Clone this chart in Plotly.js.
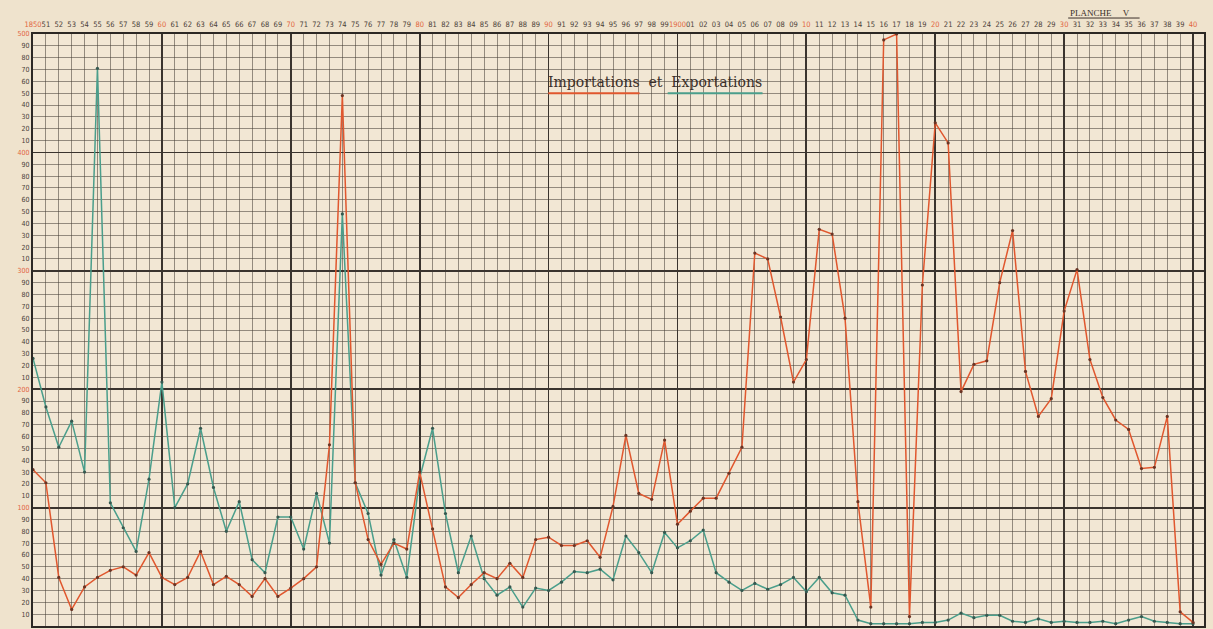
<!DOCTYPE html>
<html><head><meta charset="utf-8">
<script src="https://cdn.plot.ly/plotly-3.0.1.min.js"></script>
<style>html,body{margin:0;padding:0;background:#efe3cd;} #chart{width:1213px;height:629px;}</style>
</head><body><div id="chart"></div>
<script>
const years = [1850,1851,1852,1853,1854,1855,1856,1857,1858,1859,
1860,1861,1862,1863,1864,1865,1866,1867,1868,1869,
1870,1871,1872,1873,1874,1875,1876,1877,1878,1879,
1880,1881,1882,1883,1884,1885,1886,1887,1888,1889,
1890,1891,1892,1893,1894,1895,1896,1897,1898,1899,
1900,1901,1902,1903,1904,1905,1906,1907,1908,1909,
1910,1911,1912,1913,1914,1915,1916,1917,1918,1919,
1920,1921,1922,1923,1924,1925,1926,1927,1928,1929,
1930,1931,1932,1933,1934,1935,1936,1937,1938,1939,1940];

const yearLabels = ['1850','51','52','53','54','55','56','57','58','59',
'60','61','62','63','64','65','66','67','68','69',
'70','71','72','73','74','75','76','77','78','79',
'80','81','82','83','84','85','86','87','88','89',
'90','91','92','93','94','95','96','97','98','99',
'1900','01','02','03','04','05','06','07','08','09',
'10','11','12','13','14','15','16','17','18','19',
'20','21','22','23','24','25','26','27','28','29',
'30','31','32','33','34','35','36','37','38','39','40'];

const decades = [1850,1860,1870,1880,1890,1900,1910,1920,1930,1940];

// Importations (red)
const importations = [132,121,41,14,33,41,47,50,43,62,
41,35,41,63,35,42,35,25,40,25,
32,40,50,153,448,121,73,52,70,65,
130,82,33,24,35,45,40,53,41,73,
75,68,68,72,58,101,161,112,107,157,
86,97,108,108,129,151,315,310,261,206,
225,335,331,260,105,16,495,500,8,288,
425,408,198,221,224,290,334,215,177,192,
266,301,225,193,174,166,133,134,177,12,3];

// Exportations (green)
const exportations = [226,185,151,173,130,471,104,83,63,124,
206,100,120,167,117,80,105,56,45,92,
92,65,112,70,348,121,95,43,73,41,
125,167,95,45,76,40,26,33,16,32,
30,37,46,45,48,39,76,62,45,79,
66,72,81,45,37,30,36,31,35,41,
29,41,28,26,5,2,2,2,2,3,
3,5,11,7,9,9,4,3,6,3,
4,3,3,4,2,5,8,4,3,2,2];

const yValues = [0,10,20,30,40,50,60,70,80,90,100,110,120,130,140,150,160,170,180,190,
200,210,220,230,240,250,260,270,280,290,300,310,320,330,340,350,360,370,380,390,
400,410,420,430,440,450,460,470,480,490,500];
const yLabels = ['0','10','20','30','40','50','60','70','80','90','100','10','20','30','40','50','60','70','80','90',
'200','10','20','30','40','50','60','70','80','90','300','10','20','30','40','50','60','70','80','90',
'400','10','20','30','40','50','60','70','80','90','500'];
const hundreds = [0,100,200,300,400,500];

const RED = '#e0572e';
const GREEN = '#4a9e8b';
const LBL_RED = '#e2663f';
const INK = '#4a4038';

const xText = yearLabels.map((t,i)=> (years[i]%10===0) ? '<span style="color:'+LBL_RED+'">'+t+'</span>' : t);
const yText = yLabels.map((t,i)=> (yValues[i]%100===0) ? '<span style="color:'+LBL_RED+'">'+t+'</span>' : t);

const traces = [
  {x: years, y: importations, xaxis:'x2', yaxis:'y2', mode:'lines', line:{width:0}, hoverinfo:'skip', showlegend:false},
  {x: years, y: exportations, mode:'lines+markers', name:'Exportations',
   line:{color:GREEN, width:1.5}, marker:{size:3.2, color:'#35584f'}},
  {x: years, y: importations, mode:'lines+markers', name:'Importations',
   line:{color:RED, width:1.5}, marker:{size:3.2, color:'#6a3424'}}
];

const fontFam = '"Liberation Sans Narrow", "DejaVu Sans Condensed", "Liberation Sans", sans-serif';
const XR = [1850, 1940.85];
const layout = {
  width:1213, height:629,
  margin:{l:33, r:9, t:34, b:3},
  paper_bgcolor:'#efe3cd', plot_bgcolor:'#f2e7d4',
  showlegend:false,
  xaxis:{range:XR, side:'top', tickmode:'array', tickvals:years, ticktext:xText, tickangle:0,
    tickfont:{size:7.5, family:fontFam, color:INK}, ticks:'', ticklabelstandoff:2,
    showgrid:true, gridcolor:'rgba(70,62,52,0.55)', gridwidth:1, zeroline:false,
    showline:true, mirror:true, linecolor:'#2c2824', linewidth:2, fixedrange:true},
  xaxis2:{range:XR, overlaying:'x', anchor:'y2', side:'top', tickmode:'array', tickvals:decades,
    showticklabels:false, ticks:'', showgrid:true, gridcolor:'#3a342e', gridwidth:1.8,
    zeroline:false, showline:false, fixedrange:true},
  yaxis:{range:[0,500], tickmode:'array', tickvals:yValues, ticktext:yText,
    tickfont:{size:7, family:fontFam, color:INK}, ticks:'',
    showgrid:true, gridcolor:'rgba(70,62,52,0.55)', gridwidth:1, zeroline:false,
    showline:true, mirror:true, linecolor:'#2c2824', linewidth:2, fixedrange:true},
  yaxis2:{range:[0,500], overlaying:'y', anchor:'x2', tickmode:'array', tickvals:hundreds,
    showticklabels:false, ticks:'', showgrid:true, gridcolor:'#3a342e', gridwidth:1.8,
    zeroline:false, showline:false, fixedrange:true},
  annotations:[
    {xref:'paper', yref:'paper', x:0.531, y:0.919, xanchor:'center', yanchor:'middle',
     text:'Importations  et  Exportations', showarrow:false,
     font:{family:'"DejaVu Serif", serif', size:14, color:'#3b302a'}},
    {xref:'paper', yref:'paper', x:0.911, y:1.0355, xanchor:'center', yanchor:'middle',
     text:'PLANCHE\u00A0\u00A0\u00A0\u00A0\u00A0V', showarrow:false,
     font:{family:'"Liberation Serif", serif', size:9, color:'#3b302a'}}
  ],
  shapes:[
    {type:'line', xref:'paper', yref:'paper', x0:0.440, x1:0.518, y0:0.900, y1:0.900, line:{color:RED, width:2}},
    {type:'line', xref:'paper', yref:'paper', x0:0.542, x1:0.623, y0:0.900, y1:0.900, line:{color:GREEN, width:2}},
    {type:'line', xref:'paper', yref:'paper', x0:0.884, x1:0.945, y0:1.027, y1:1.027, line:{color:'#3b302a', width:1}}
  ]
};

Plotly.newPlot('chart', traces, layout, {displayModeBar:false, staticPlot:true});
</script>
</body></html>
